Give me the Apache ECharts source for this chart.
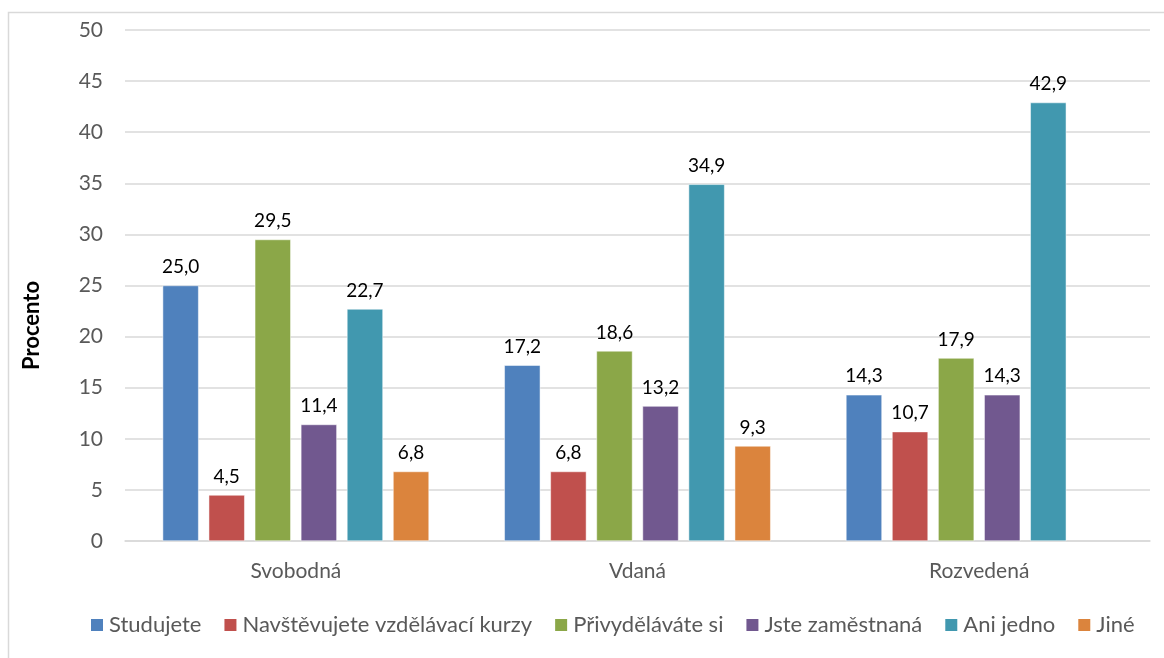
<!DOCTYPE html>
<html>
<head>
<meta charset="utf-8">
<script src="https://cdn.jsdelivr.net/npm/echarts@6/dist/echarts.min.js"></script>
<style>
  html, body { margin: 0; padding: 0; background: #fff; }
  #chart { width: 1164px; height: 658px; }
</style>
</head>
<body>
<div id="chart"></div>
<script>
const categories = ["Svobodná", "Vdaná", "Rozvedená"];
const seriesNames = [
  "Studujete",
  "Navštěvujete vzdělávací kurzy",
  "Přivyděláváte si",
  "Jste zaměstnaná",
  "Ani jedno",
  "Jiné",
];
const studujete = [25.0, 17.2, 14.3];
const kurzy = [4.5, 6.8, 10.7];
const privydelavate = [29.5, 18.6, 17.9];
const zamestnana = [11.4, 13.2, 14.3];
const aniJedno = [22.7, 34.9, 42.9];
const jine = [6.8, 9.3, null];
const colors = ["#4F81BD", "#C0504D", "#8BA748", "#71588F", "#4198AF", "#DB843D"];

const values = [studujete, kurzy, privydelavate, zamestnana, aniJedno, jine];
const font = "Lato, 'Open Sans', sans-serif";

const chart = echarts.init(document.getElementById("chart"));
chart.setOption({
  animation: false,
  color: colors,
  textStyle: { fontFamily: font },
  graphic: [
    {
      type: "rect",
      shape: { x: 8.5, y: 12.5, width: 1200, height: 700 },
      style: { fill: "none", stroke: "#d9d9d9", lineWidth: 1.5 },
      silent: true,
    },
  ],
  grid: { left: 125, right: 14, top: 30, bottom: 117 },
  legend: {
    top: 609,
    left: 84,
    itemWidth: 14,
    itemHeight: 14,
    itemGap: 21,
    icon: "rect",
    textStyle: { color: "#595959", fontSize: 22, fontFamily: font },
  },
  xAxis: {
    type: "category",
    data: categories,
    axisLine: { lineStyle: { color: "#d9d9d9", width: 1.5 } },
    axisTick: { show: false },
    axisLabel: { color: "#595959", fontSize: 21, margin: 20 },
  },
  yAxis: {
    type: "value",
    min: 0,
    max: 50,
    interval: 5,
    name: "Procento",
    nameLocation: "middle",
    nameGap: 82,
    nameTextStyle: { color: "#000", fontSize: 22, fontWeight: "bold", padding: [0, 80, 0, 0] },
    axisLine: { show: false },
    axisTick: { show: false },
    axisLabel: { color: "#595959", fontSize: 21, margin: 22 },
    splitLine: { lineStyle: { color: "#d9d9d9", width: 1.5 } },
  },
  series: seriesNames.map((name, i) => ({
    name,
    type: "bar",
    data: values[i],
    barWidth: 36,
    barGap: "28%",
    itemStyle: { borderColor: "#fff", borderWidth: 0.5 },
    label: {
      show: true,
      position: "top",
      distance: 9,
      color: "#000",
      fontSize: 19,
      fontFamily: font,
      formatter: (p) => (p.value == null ? "" : p.value.toFixed(1).replace(".", ",")),
    },
  })),
});
</script>
</body>
</html>
